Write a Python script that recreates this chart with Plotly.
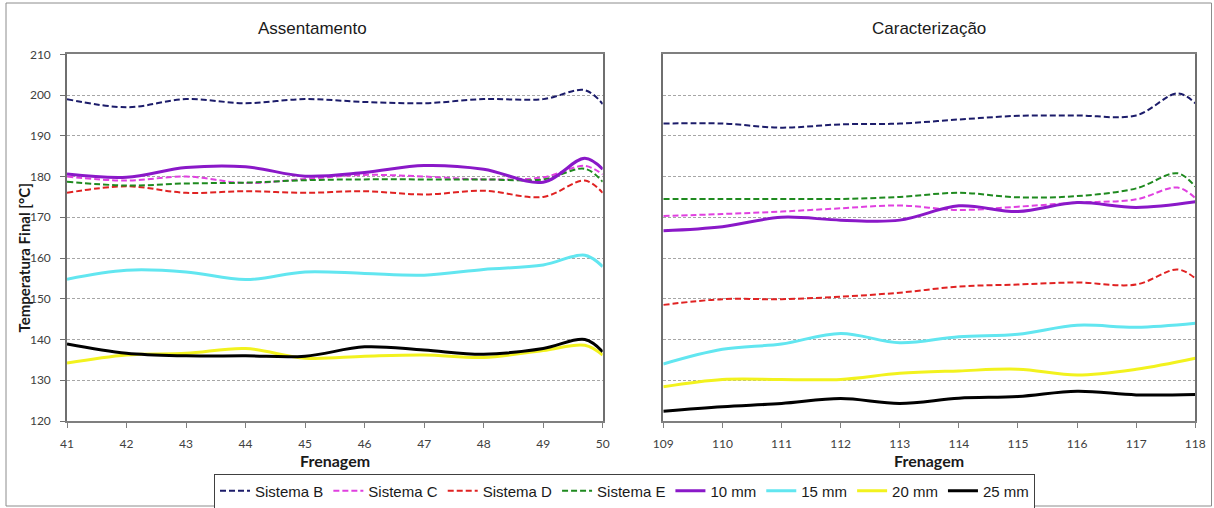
import plotly.graph_objects as go

# Frenagem numbers for each test phase
frenagem_assent = [41, 42, 43, 44, 45, 46, 47, 48, 49, 49.7, 50]
frenagem_carac_sis = [109, 110, 111, 112, 113, 114, 115, 116, 117, 117.7, 118]
frenagem_carac_mm = [109, 110, 111, 112, 113, 114, 115, 116, 117, 118]

# Final temperature [°C] – Assentamento
sis_b_assent = [199, 197, 199, 198, 199, 198.3, 198, 199, 199, 201.2, 197.8]
sis_c_assent = [180, 179, 180, 178.4, 179.4, 180.4, 180, 179.3, 179.8, 182.6, 180.5]
sis_d_assent = [176, 177.6, 176, 176.4, 176, 176.4, 175.6, 176.5, 175, 179, 176]
sis_e_assent = [178.7, 177.8, 178.3, 178.5, 179.1, 179.3, 179.3, 179.3, 179.3, 181.9, 178.7]
mm10_assent = [180.6, 179.8, 182.2, 182.4, 180.1, 181, 182.7, 181.8, 178.6, 184.5, 181.8]
mm15_assent = [154.8, 157.0, 156.6, 154.7, 156.6, 156.2, 155.8, 157.2, 158.3, 160.7, 157.9]
mm20_assent = [134.2, 136.2, 136.6, 137.8, 135.4, 135.9, 136.2, 135.6, 137.3, 138.6, 136.2]
mm25_assent = [138.9, 136.6, 136.0, 136.0, 135.9, 138.2, 137.4, 136.4, 137.8, 140.0, 137.0]

# Final temperature [°C] – Caracterização
sis_b_carac = [193, 193, 192, 192.8, 193, 194, 194.9, 195, 195, 200.4, 198]
sis_c_carac = [170.3, 170.8, 171.4, 172.2, 172.9, 171.8, 172.6, 173.6, 174.4, 177.3, 174.7]
sis_d_carac = [148.5, 149.9, 149.9, 150.5, 151.5, 153, 153.5, 154, 153.5, 157.2, 155]
sis_e_carac = [174.5, 174.5, 174.5, 174.5, 175, 176, 174.9, 175.2, 177.1, 180.8, 177.5]
mm10_carac = [166.7, 167.7, 170, 169.3, 169.3, 172.8, 171.4, 173.6, 172.4, 173.8]
mm15_carac = [134, 137.6, 138.9, 141.5, 139.2, 140.7, 141.3, 143.5, 143, 144]
mm20_carac = [128.4, 130.2, 130.2, 130.2, 131.7, 132.3, 132.7, 131.3, 132.7, 135.4]
mm25_carac = [122.4, 123.5, 124.3, 125.5, 124.3, 125.6, 126, 127.3, 126.4, 126.5]

series = [
    ("Sistema B", "#1c1c6a", True, sis_b_assent, sis_b_carac),
    ("Sistema C", "#e040e0", True, sis_c_assent, sis_c_carac),
    ("Sistema D", "#e02222", True, sis_d_assent, sis_d_carac),
    ("Sistema E", "#1f8a1f", True, sis_e_assent, sis_e_carac),
    ("10 mm", "#8a18c8", False, mm10_assent, mm10_carac),
    ("15 mm", "#62e6f0", False, mm15_assent, mm15_carac),
    ("20 mm", "#f2f21e", False, mm20_assent, mm20_carac),
    ("25 mm", "#000000", False, mm25_assent, mm25_carac),
]

W, H = 1214, 508
fig = go.Figure()

for name, color, dashed, ya, yc in series:
    line = dict(color=color, width=2 if dashed else 3, shape="spline", smoothing=1.0,
                dash="6px,3px" if dashed else "solid")
    fig.add_trace(go.Scatter(x=frenagem_assent, y=ya, mode="lines", name=name,
                             line=line, xaxis="x", yaxis="y", legendgroup=name))
    xc = frenagem_carac_sis if dashed else frenagem_carac_mm
    fig.add_trace(go.Scatter(x=xc, y=yc, mode="lines", name=name, showlegend=False,
                             line=line, xaxis="x2", yaxis="y2", legendgroup=name))

tick_font = dict(family="Lato, Open Sans, sans-serif", size=12, color="#404040")

def px_x(p):
    return p / W

def px_y(p):
    return (H - p) / H

y_dom = [px_y(421), px_y(54.3)]

common_x = dict(showgrid=False, zeroline=False, ticks="outside", ticklen=5,
                tickcolor="#7f7f7f", linecolor="#7f7f7f", linewidth=1.5, mirror=True,
                tickfont=tick_font, ticklabelstandoff=6, dtick=1, automargin=False)
common_y = dict(range=[120, 210], dtick=10, showgrid=True, gridcolor="#a6a6a6",
                griddash="3px,2px", gridwidth=1, zeroline=False, mirror=True,
                linecolor="#6f6f6f", linewidth=1.5, automargin=False)

title_font = dict(family="Liberation Sans, Arial", size=17, color="#1a1a1a")
bold_font = dict(family="Lato, sans-serif", size=16, color="#1a1a1a")


def label(text, x, y, font, angle=0):
    return dict(text=text, x=px_x(x), y=px_y(y), xref="paper", yref="paper",
                xanchor="center", yanchor="middle", textangle=angle,
                showarrow=False, font=font)


fig.update_layout(
    width=W, height=H,
    margin=dict(l=0, r=0, t=0, b=0, autoexpand=False),
    paper_bgcolor="white", plot_bgcolor="white",
    showlegend=True,
    xaxis=dict(domain=[px_x(67), px_x(602.7)], range=[41, 50], anchor="y",
               tick0=41, **common_x),
    yaxis=dict(domain=y_dom, anchor="x", ticks="outside", ticklen=5,
               tickcolor="#6f6f6f", tickfont=tick_font, ticklabelstandoff=7,
               **common_y),
    xaxis2=dict(domain=[px_x(663.3), px_x(1195.3)], range=[109, 118], anchor="y2",
                tick0=109, **common_x),
    yaxis2=dict(domain=y_dom, anchor="x2", showticklabels=False, ticks="",
                **common_y),
    legend=dict(orientation="h", x=px_x(624.5), xanchor="center",
                y=px_y(491), yanchor="middle",
                bordercolor="#404040", borderwidth=1, bgcolor="white",
                font=dict(family="Liberation Sans, Arial, sans-serif", size=15,
                          color="#1a1a1a"),
                traceorder="normal", tracegroupgap=0),
    annotations=[
        label("Assentamento", 312, 28, title_font),
        label("Caracterização", 929, 28, title_font),
        label("<b>Frenagem</b>", 335, 461, bold_font),
        label("<b>Frenagem</b>", 929, 461, bold_font),
        label("<b>Temperatura Final [°C]</b>", 23, 258.5,
              dict(family="Lato, sans-serif", size=15, color="#1a1a1a"), angle=-90),
    ],
    shapes=[
        dict(type="rect", xref="paper", yref="paper",
             x0=px_x(6), x1=px_x(1211.5), y0=px_y(506), y1=px_y(3),
             line=dict(color="#8c8c8c", width=1), fillcolor="rgba(0,0,0,0)",
             layer="below"),
    ],
)

fig.write_html("out.html")
